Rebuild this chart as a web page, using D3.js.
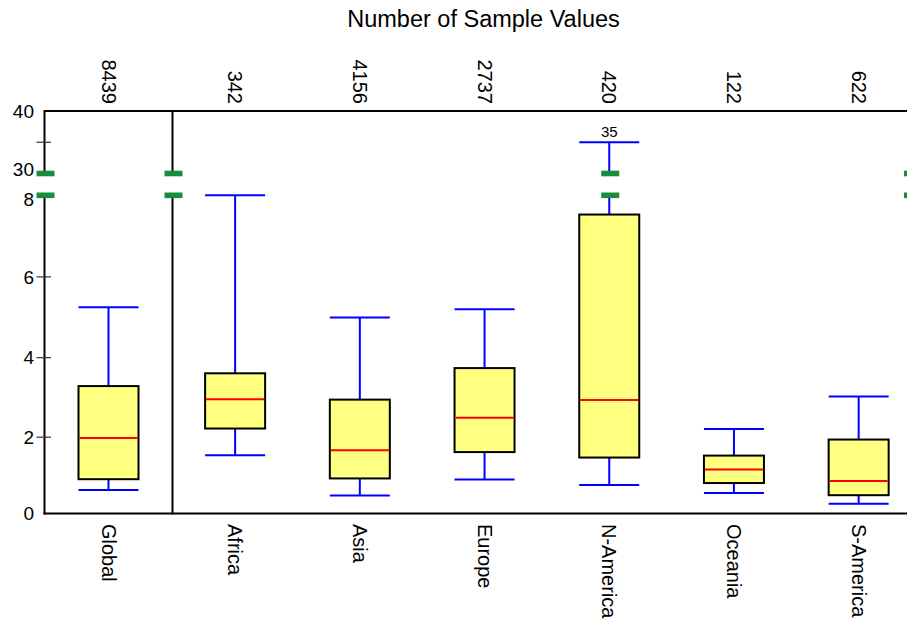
<!DOCTYPE html>
<html>
<head>
<meta charset="utf-8">
<script src="https://cdn.jsdelivr.net/npm/d3@7"></script>
<style>
  body { margin: 0; background: #fff; }
  text { font-family: "Liberation Sans", Arial, Helvetica, sans-serif; fill: #000; }
</style>
</head>
<body>
<svg id="chart" width="907" height="622"></svg>
<script>
// Box-plot statistics per region (values below the axis break are 0..8, above it 30..40)
const categories   = ["Global", "Africa", "Asia", "Europe", "N-America", "Oceania", "S-America"];
const sampleCounts = [8439, 342, 4156, 2737, 420, 122, 622];
const whiskerLow   = [0.64, 1.54, 0.49, 0.91, 0.77, 0.56, 0.27];
const quartile1    = [0.92, 2.22, 0.94, 1.62, 1.48, 0.82, 0.50];
const medians      = [1.98, 2.96, 1.67, 2.49, 2.94, 1.17, 0.87];
const quartile3    = [3.29, 3.61, 2.95, 3.74, 7.53, 1.53, 1.94];
const whiskerHigh  = [5.25, 8.0, 5.0, 5.2, 35, 2.21, 3.03];

const lowerDomain = [0, 8];
const upperDomain = [30, 40];
const lowerTicks = [0, 2, 4, 6, 8];
const upperTicks = [30, 40];
const upperMinorTicks = [35];

const COLORS = { box: "#ffff80", median: "#ff0000", whisker: "#0000ff", breakMark: "#1b8c3a" };

const svg = d3.select("#chart");

// Geometry
const plotLeft = 44.5, plotDivider = 172.5, plotRight = 912;
const plotTop = 111, plotBottom = 513.5;
const lowerTop = 195.3, upperBottom = 173.5;
const boxWidth = 60;

// Broken y axis: two stacked scales
const yLow = d3.scalePow().exponent(1.03).domain(lowerDomain).range([plotBottom, lowerTop]);
const yHigh = d3.scaleLinear().domain(upperDomain).range([upperBottom, plotTop]);
const y = v => (v <= lowerDomain[1] ? yLow(v) : yHigh(v));

// x: Global gets its own panel, regions share the second panel
const xGlobal = d3.scaleBand().domain(["Global"]).range([plotLeft, plotDivider]);
const regions = categories.slice(1);
const xRegion = d3.scalePoint().domain(regions).range([plotDivider, plotRight]).padding(0.465).align(0.54);
const xCenter = c => (c === "Global" ? xGlobal(c) + xGlobal.bandwidth() / 2 : xRegion(c));

const data = categories.map((c, i) => ({
  name: c, n: sampleCounts[i], lo: whiskerLow[i], q1: quartile1[i],
  med: medians[i], q3: quartile3[i], hi: whiskerHigh[i]
}));

// Title
svg.append("text")
  .attr("x", 483.5).attr("y", 26.5)
  .attr("text-anchor", "middle")
  .style("font-size", "23.5px")
  .text("Number of Sample Values");

// Frame: top and bottom lines, vertical axes with a gap at the break
const frame = svg.append("g").attr("stroke", "#000").attr("stroke-width", 2).attr("fill", "none");
frame.append("line").attr("x1", plotLeft).attr("x2", plotRight).attr("y1", plotTop).attr("y2", plotTop);
frame.append("line").attr("x1", plotLeft - 1).attr("x2", plotRight).attr("y1", plotBottom).attr("y2", plotBottom);
[plotLeft, plotDivider, plotRight].forEach(x => {
  frame.append("line").attr("x1", x).attr("x2", x).attr("y1", plotTop - 1).attr("y2", upperBottom);
  frame.append("line").attr("x1", x).attr("x2", x).attr("y1", lowerTop).attr("y2", plotBottom + 1);
});

// Tick marks (interior values only), crossing the axis
const tickVals = lowerTicks.filter(t => t > lowerDomain[0] && t < lowerDomain[1]).map(yLow)
  .concat(upperMinorTicks.map(yHigh));
svg.append("g").selectAll("line").data(tickVals).join("line")
  .attr("x1", plotLeft - 8).attr("x2", plotLeft + 6.5)
  .attr("y1", d => d).attr("y2", d => d)
  .attr("stroke", "#333").attr("stroke-width", 1.2);

// Tick labels; the two labels at the break are nudged away from it
const nudge = 4.5;
const labelData = lowerTicks.map(t => ({ t, yy: yLow(t) + (t === lowerDomain[1] ? nudge : 0) }))
  .concat(upperTicks.map(t => ({ t, yy: yHigh(t) + (t === upperDomain[0] ? -nudge : 0) })));
svg.append("g").selectAll("text").data(labelData).join("text")
  .attr("x", 34).attr("y", d => d.yy).attr("dy", "0.35em")
  .attr("text-anchor", "end")
  .style("font-size", "19px")
  .text(d => d.t);

// Boxes
const boxes = svg.append("g").selectAll("g").data(data).join("g")
  .attr("transform", d => `translate(${xCenter(d.name)},0)`);

// Lower whisker
boxes.append("line").attr("x1", 0).attr("x2", 0)
  .attr("y1", d => y(d.q1)).attr("y2", d => y(d.lo))
  .attr("stroke", COLORS.whisker).attr("stroke-width", 2);
// Upper whisker (split when it crosses the break)
boxes.each(function (d) {
  const g = d3.select(this);
  if (d.hi <= lowerDomain[1]) {
    g.append("line").attr("x1", 0).attr("x2", 0).attr("y1", y(d.q3)).attr("y2", y(d.hi))
      .attr("stroke", COLORS.whisker).attr("stroke-width", 2);
  } else {
    g.append("line").attr("x1", 0).attr("x2", 0).attr("y1", y(d.q3)).attr("y2", lowerTop)
      .attr("stroke", COLORS.whisker).attr("stroke-width", 2);
    g.append("line").attr("x1", 0).attr("x2", 0).attr("y1", upperBottom).attr("y2", y(d.hi))
      .attr("stroke", COLORS.whisker).attr("stroke-width", 2);
    g.append("text").attr("x", 0).attr("y", y(d.hi) - 5)
      .attr("text-anchor", "middle").style("font-size", "15px")
      .text(d3.format("d")(d.hi));
  }
});
// Whisker caps
["lo", "hi"].forEach(k => {
  boxes.append("line")
    .attr("x1", -boxWidth / 2).attr("x2", boxWidth / 2)
    .attr("y1", d => y(d[k])).attr("y2", d => y(d[k]))
    .attr("stroke", COLORS.whisker).attr("stroke-width", 2);
});
// Interquartile box
boxes.append("rect")
  .attr("x", -boxWidth / 2).attr("width", boxWidth)
  .attr("y", d => y(d.q3)).attr("height", d => y(d.q1) - y(d.q3))
  .attr("fill", COLORS.box).attr("stroke", "#000").attr("stroke-width", 2);
// Median
boxes.append("line")
  .attr("x1", -boxWidth / 2 + 1).attr("x2", boxWidth / 2 - 1)
  .attr("y1", d => y(d.med)).attr("y2", d => y(d.med))
  .attr("stroke", COLORS.median).attr("stroke-width", 2);

// Break marks on axes and on whiskers that cross the break
const breakXs = [plotLeft, plotDivider, plotRight]
  .concat(data.filter(d => d.hi > lowerDomain[1]).map(d => xCenter(d.name)));
const marks = svg.append("g");
breakXs.forEach(x => {
  [upperBottom, lowerTop].forEach(yy => {
    marks.append("rect")
      .attr("x", x - 8).attr("width", 18)
      .attr("y", yy - 2.8).attr("height", 5.6)
      .attr("fill", COLORS.breakMark);
  });
});

// Sample counts above each box
svg.append("g").selectAll("text").data(data).join("text")
  .attr("transform", d => `translate(${xCenter(d.name)},104) rotate(90)`)
  .attr("text-anchor", "end").attr("dy", "0.35em")
  .style("font-size", "20px")
  .text(d => d.n);

// Category labels below the axis
svg.append("g").selectAll("text").data(data).join("text")
  .attr("transform", d => `translate(${xCenter(d.name)},524) rotate(90)`)
  .attr("text-anchor", "start").attr("dy", "0.35em")
  .style("font-size", "20px")
  .text(d => d.name);
</script>
</body>
</html>
